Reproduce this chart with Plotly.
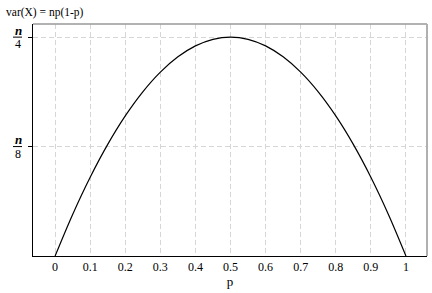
import plotly.graph_objects as go

p_values = [0.0, 0.05, 0.1, 0.15, 0.2, 0.25, 0.3, 0.35, 0.4, 0.45, 0.5,
            0.55, 0.6, 0.65, 0.7, 0.75, 0.8, 0.85, 0.9, 0.95, 1.0]
var_values = [0.0, 0.0475, 0.09, 0.1275, 0.16, 0.1875, 0.21, 0.2275, 0.24, 0.2475, 0.25,
              0.2475, 0.24, 0.2275, 0.21, 0.1875, 0.16, 0.1275, 0.09, 0.0475, 0.0]
x_ticks = [0, 0.1, 0.2, 0.3, 0.4, 0.5, 0.6, 0.7, 0.8, 0.9, 1]
x_tick_labels = ["0", "0.1", "0.2", "0.3", "0.4", "0.5", "0.6", "0.7", "0.8", "0.9", "1"]
y_ticks = [0.125, 0.25]
y_denoms = ["8", "4"]

FONT = "Liberation Serif"
GRID = "#d6d6d6"

fig = go.Figure()
fig.add_trace(go.Scatter(x=p_values, y=var_values, mode="lines",
                         line=dict(color="black", width=1.2, shape="spline"),
                         hoverinfo="skip", showlegend=False))

fig.update_layout(
    width=432, height=293,
    margin=dict(l=33, r=5, t=24, b=37),
    paper_bgcolor="white", plot_bgcolor="white",
    font=dict(family=FONT, size=12, color="black"),
    title=dict(text="var(X) = np(1-p)", x=0.014, xanchor="left", y=0.96, yanchor="middle",
               font=dict(family=FONT, size=11.5, color="black")),
    xaxis=dict(range=[-0.063, 1.06], tickvals=x_ticks, ticktext=x_tick_labels,
               showgrid=True, gridcolor=GRID, griddash="5px,3px", gridwidth=1,
               zeroline=False, showline=True, linecolor="black", linewidth=1,
               ticks="", tickfont=dict(family=FONT, size=12),
               title=dict(text="p", font=dict(family=FONT, size=13), standoff=3)),
    yaxis=dict(range=[0, 0.265], tickvals=y_ticks, ticktext=["", ""],
               showgrid=True, gridcolor=GRID, griddash="5px,3px", gridwidth=1,
               zeroline=False, showline=True, linecolor="black", linewidth=1,
               ticks="outside", ticklen=4, tickcolor="black"),
)

# top and right border
fig.add_shape(type="line", xref="paper", yref="paper", x0=0, x1=1, y0=1, y1=1,
              line=dict(color="#999999", width=1.5))
fig.add_shape(type="line", xref="paper", yref="paper", x0=1, x1=1, y0=0, y1=1,
              line=dict(color="#b0b0b0", width=2))

for yv, d in zip(y_ticks, y_denoms):
    fig.add_annotation(x=0, xref="paper", xshift=-15, y=yv, yref="y", yshift=7,
                       text="<b><i>n</i></b>", showarrow=False,
                       font=dict(family=FONT, size=13), xanchor="center", yanchor="middle")
    fig.add_annotation(x=0, xref="paper", xshift=-15, y=yv, yref="y", yshift=-7,
                       text=d, showarrow=False,
                       font=dict(family=FONT, size=12), xanchor="center", yanchor="middle")
    fig.add_shape(type="line", xref="paper", xsizemode="pixel", xanchor=0,
                  x0=-20, x1=-11, yref="y", y0=yv, y1=yv,
                  line=dict(color="black", width=1))

fig.write_html("out.html")
